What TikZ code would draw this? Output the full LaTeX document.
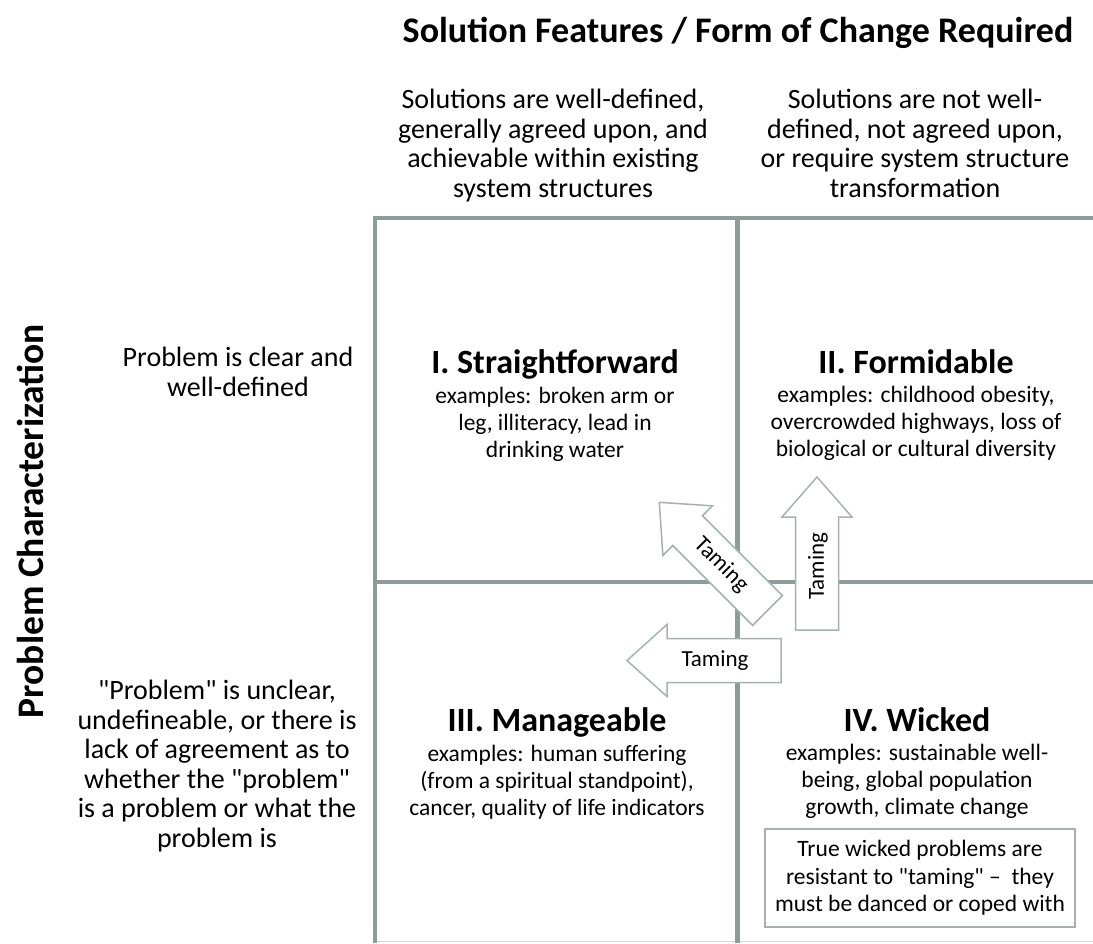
\documentclass[tikz,border=0pt]{standalone}
\usepackage{fontspec}
\setmainfont{Carlito}[Ligatures=TeXOff]
\definecolor{gridc}{HTML}{8C9C9C}
\definecolor{arrc}{HTML}{A3B3B3}
\definecolor{boxc}{HTML}{A8B0B0}
\begin{document}
\begin{tikzpicture}[x=1pt,y=-1pt,
  gridline/.style={draw=gridc,line width=4.5pt},
  bigtitle/.style={font=\fontsize{36}{40}\selectfont\bfseries,inner sep=0pt},
  sidetitle/.style={font=\fontsize{37.5}{40}\selectfont\bfseries,inner sep=0pt},
  hdr/.style={font=\fontsize{28}{29.5}\selectfont,align=center,inner sep=0pt},
  qtitle/.style={font=\fontsize{34}{36}\selectfont\bfseries,inner sep=0pt,anchor=base},
  extext/.style={font=\fontsize{23.5}{27}\selectfont,align=center,inner sep=0pt,anchor=north},
  tamearrow/.style={draw=arrc,fill=white,line width=1.5pt,line join=miter},
  tametext/.style={font=\fontsize{23}{25}\selectfont,inner sep=0pt},
  notebox/.style={draw=boxc,line width=1.5pt,fill=white,minimum width=310pt,minimum height=98pt,
    font=\fontsize{23.5}{27.5}\selectfont,align=center,inner sep=0pt}]
\useasboundingbox (0,0) rectangle (1093,943);
\fill[white] (0,0) rectangle (1093,943);

% grid
\coordinate (gTL) at (375,218);
\coordinate (gTR) at (1093,218);
\coordinate (gBL) at (375,943);
\coordinate (gMT) at (737.5,218);
\coordinate (gMB) at (737.5,943);
\coordinate (gML) at (375,582);
\coordinate (gMR) at (1093,582);
\coordinate (bL) at (375,941.5);
\coordinate (bR) at (1093,941.5);
\draw[draw=gridc!40,line width=1.2pt] (bL) -- (bR);
\draw[gridline] (gTR) -- (gTL) -- (gBL);
\draw[gridline] (gMT) -- (gMB);
\draw[gridline] (gML) -- (gMR);

% headings
\node[bigtitle] (title) at (738,33) {Solution Features / Form of Change Required};
\node[hdr,anchor=north] (h1) at (553,89) {Solutions are well-defined,\\generally agreed upon, and\\achievable within existing\\system structures};
\node[hdr,anchor=north] (h2) at (915,89) {Solutions are not well-\\defined, not agreed upon,\\or require system structure\\transformation};
\node[sidetitle,rotate=90] (ylab) at (30,521) {Problem Characterization};
\node[hdr] (r1) at (238,372) {Problem is clear and\\well-defined};
\node[hdr] (r2) at (217,766) {"Problem" is unclear,\\undefineable, or there is\\lack of agreement as to\\whether the "problem"\\is a problem or what the\\problem is};

% quadrants
\node[qtitle] (q1t) at (555,373) {I. Straightforward};
\node[extext] (q1e) at (555,387) {examples: broken arm or\\leg, illiteracy, lead in\\drinking water};
\node[qtitle] (q2t) at (916,373) {II. Formidable};
\node[extext] (q2e) at (916,386) {examples: childhood obesity,\\overcrowded highways, loss of\\biological or cultural diversity};
\node[qtitle] (q3t) at (557,731) {III. Manageable};
\node[extext] (q3e) at (557,745) {examples: human suffering\\(from a spiritual standpoint),\\cancer, quality of life indicators};
\node[qtitle] (q4t) at (917,731) {IV. Wicked};
\node[extext] (q4e) at (917,744) {examples: sustainable well-\\being, global population\\growth, climate change};
\node[notebox] (note) at (920,878) {True wicked problems are\\resistant to "taming" –\ \ they\\must be danced or coped with};

% taming arrows
\begin{scope}[shift={(817,630)},rotate=90]
  \draw[tamearrow] (0,-21.5) -- (113,-21.5) -- (113,-35) -- (153,0) -- (113,35) -- (113,21.5) -- (0,21.5) -- cycle;
\end{scope}
\node[tametext,rotate=90] (t1) at (818,566) {Taming};
\begin{scope}[shift={(767.5,610.5)},rotate=135]
  \draw[tamearrow] (0,-21) -- (113,-21) -- (113,-35) -- (153,0) -- (113,35) -- (113,21) -- (0,21) -- cycle;
\end{scope}
\node[tametext,rotate=-45] (t2) at (721,565) {Taming};
\begin{scope}[shift={(781,660.5)},rotate=180]
  \draw[tamearrow] (0,-22) -- (114,-22) -- (114,-36) -- (154,0) -- (114,36) -- (114,22) -- (0,22) -- cycle;
\end{scope}
\node[tametext] (t3) at (715,661) {Taming};
\end{tikzpicture}
\end{document}
